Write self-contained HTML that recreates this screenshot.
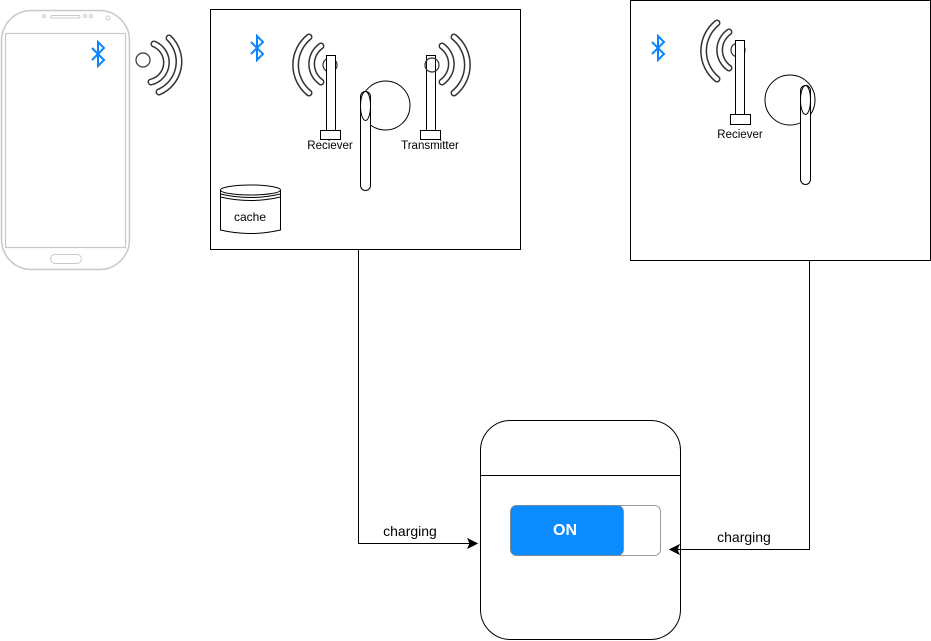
<!DOCTYPE html>
<html><head><meta charset="utf-8"><style>
html,body{margin:0;padding:0;background:#fff;}
svg{display:block;font-family:"Liberation Sans",sans-serif;}
</style></head><body>
<svg width="931" height="641" viewBox="0 0 931 641" xmlns="http://www.w3.org/2000/svg">
<defs>
<g id="bt"><path d="M-6,-7 L6,5 L0,11 L0,-13 L6,-7 L-6,5" fill="none" stroke="#0a84ff" stroke-width="2"/></g>
</defs>
<!-- phone -->
<rect x="1.5" y="10.5" width="128" height="259" rx="30" fill="#fff" stroke="#c8c8c8" stroke-width="1.5"/>
<rect x="5.5" y="33.5" width="120" height="214" fill="none" stroke="#c8c8c8" stroke-width="1.2"/>
<rect x="50.5" y="254.5" width="31" height="9" rx="4.5" fill="none" stroke="#c8c8c8"/>
<rect x="51" y="15.5" width="29" height="2.5" rx="1" fill="none" stroke="#c8c8c8"/>
<circle cx="44" cy="16" r="1.5" fill="none" stroke="#c8c8c8"/>
<circle cx="85" cy="16" r="1.5" fill="none" stroke="#c8c8c8"/>
<circle cx="91" cy="16" r="1.5" fill="none" stroke="#c8c8c8"/>
<circle cx="108" cy="18" r="2" fill="none" stroke="#c8c8c8"/>
<use href="#bt" x="98" y="55"/>
<!-- phone waves -->
<circle cx="143" cy="60" r="7" fill="#fff" stroke="#333" stroke-width="1.2"/>
<g fill="none" stroke-linecap="round">
<path d="M154,44 A20,20 0 0 1 151,82" stroke="#333" stroke-width="7"/>
<path d="M154,44 A20,20 0 0 1 151,82" stroke="#fff" stroke-width="4"/>
<path d="M169,38 A33,33 0 0 1 159,92" stroke="#333" stroke-width="7"/>
<path d="M169,38 A33,33 0 0 1 159,92" stroke="#fff" stroke-width="4"/>
</g>
<!-- box1 -->
<rect x="210.5" y="9.5" width="310" height="240" fill="#fff" stroke="#000"/>
<use href="#bt" x="257" y="49"/>
<g fill="none" stroke-linecap="round">
<path d="M321,46 A22,22 0 0 0 321,82" stroke="#333" stroke-width="7"/>
<path d="M321,46 A22,22 0 0 0 321,82" stroke="#fff" stroke-width="4"/>
<path d="M309,37 A36,36 0 0 0 309,93" stroke="#333" stroke-width="7"/>
<path d="M309,37 A36,36 0 0 0 309,93" stroke="#fff" stroke-width="4"/>
</g>
<circle cx="330" cy="65" r="7" fill="#fff" stroke="#333" stroke-width="1.2"/>
<rect x="326.5" y="55.5" width="9" height="76" fill="#fff" stroke="#000"/>
<rect x="320.5" y="130.5" width="20" height="9" fill="#fff" stroke="#000"/>
<text x="330" y="149" font-size="11.5" text-anchor="middle" fill="#000">Reciever</text>
<g fill="none" stroke-linecap="round">
<path d="M442,46 A22,22 0 0 1 442,82" stroke="#333" stroke-width="7"/>
<path d="M442,46 A22,22 0 0 1 442,82" stroke="#fff" stroke-width="4"/>
<path d="M454,37 A36,36 0 0 1 454,93" stroke="#333" stroke-width="7"/>
<path d="M454,37 A36,36 0 0 1 454,93" stroke="#fff" stroke-width="4"/>
</g>
<rect x="426.5" y="55.5" width="9" height="76" fill="#fff" stroke="#000"/>
<circle cx="432" cy="65" r="7" fill="none" stroke="#333" stroke-width="1.2"/>
<rect x="420.5" y="130.5" width="20" height="9" fill="#fff" stroke="#000"/>
<text x="430" y="149" font-size="11.5" text-anchor="middle" fill="#000">Transmitter</text>
<!-- earbud1 -->
<circle cx="385.5" cy="105.5" r="24.5" fill="#fff" stroke="#000"/>
<rect x="360.5" y="91.5" width="10" height="99" rx="5" fill="#fff" stroke="#000"/>
<ellipse cx="365.5" cy="106" rx="5" ry="14.5" fill="none" stroke="#000"/>
<!-- cache -->
<path d="M220.5,190 L220.5,230 Q250,237 280.5,230 L280.5,190" fill="#fff" stroke="#000"/>
<ellipse cx="250.5" cy="190" rx="30" ry="5" fill="#fff" stroke="#000"/>
<path d="M220.5,194 Q250,201 280.5,194 M220.5,197 Q250,204 280.5,197" fill="none" stroke="#000"/>
<text x="250" y="221" font-size="12" text-anchor="middle">cache</text>
<!-- box2 -->
<rect x="630.5" y="0.5" width="300" height="260" fill="#fff" stroke="#000"/>
<use href="#bt" x="658" y="49"/>
<g fill="none" stroke-linecap="round">
<path d="M729,32 A22,22 0 0 0 729,68" stroke="#333" stroke-width="7"/>
<path d="M729,32 A22,22 0 0 0 729,68" stroke="#fff" stroke-width="4"/>
<path d="M717,23 A36,36 0 0 0 717,79" stroke="#333" stroke-width="7"/>
<path d="M717,23 A36,36 0 0 0 717,79" stroke="#fff" stroke-width="4"/>
</g>
<circle cx="738" cy="50" r="7" fill="#fff" stroke="#333" stroke-width="1.2"/>
<rect x="735.5" y="40.5" width="9" height="75" fill="#fff" stroke="#000"/>
<rect x="730.5" y="114.5" width="20" height="10" fill="#fff" stroke="#000"/>
<text x="740" y="138" font-size="11.5" text-anchor="middle">Reciever</text>
<circle cx="790" cy="100" r="25" fill="#fff" stroke="#000"/>
<rect x="800.5" y="85.5" width="10" height="99" rx="5" fill="#fff" stroke="#000"/>
<ellipse cx="805.5" cy="100" rx="5" ry="14.5" fill="none" stroke="#000"/>
<!-- case -->
<rect x="480.5" y="420.5" width="200" height="219" rx="30" fill="#fff" stroke="#000"/>
<line x1="480.5" y1="475.5" x2="680.5" y2="475.5" stroke="#000"/>
<rect x="510.5" y="505.5" width="150" height="50" rx="6" fill="#fff" stroke="#999"/>
<rect x="510.5" y="505.5" width="113" height="50" rx="6" fill="#0a8cff" stroke="#888" stroke-width="0.8"/>
<text x="565" y="535" font-size="16" font-weight="bold" fill="#fff" text-anchor="middle">ON</text>
<!-- connectors -->
<path d="M358.5,250 L358.5,543.5 L470,543.5" fill="none" stroke="#000"/>
<path d="M477,543.5 L468,539 L470,543.5 L468,548 Z" fill="#000" stroke="#000"/>
<text x="410" y="536" font-size="14" text-anchor="middle">charging</text>
<path d="M809.5,261 L809.5,549.5 L677,549.5" fill="none" stroke="#000"/>
<path d="M670,549.5 L679,545 L677,549.5 L679,554 Z" fill="#000" stroke="#000"/>
<text x="744" y="542" font-size="14" text-anchor="middle">charging</text>
</svg>
</body></html>
